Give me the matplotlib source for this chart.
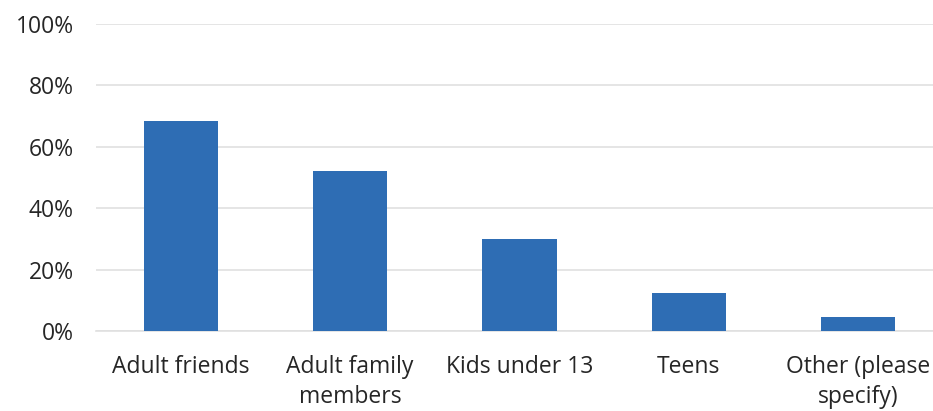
import matplotlib.pyplot as plt
from matplotlib.ticker import PercentFormatter

categories = ['Adult friends', 'Adult family\nmembers', 'Kids under 13', 'Teens', 'Other (please\nspecify)']
values = [68.5, 52, 30, 12.5, 4.6]
yticks = [0, 20, 40, 60, 80, 100]

plt.rcParams['font.family'] = ['Open Sans', 'DejaVu Sans']

fig = plt.figure(figsize=(9.33, 4.11), dpi=100)
ax = fig.add_axes([96 / 933, 80 / 411, 847 / 933, 307 / 411])

ax.bar(range(len(categories)), values, width=0.437, color='#2E6DB4', zorder=3)

ax.set_xlim(-0.5, 4.5)
ax.set_ylim(0, 100)
ax.set_yticks(yticks)
ax.yaxis.set_major_formatter(PercentFormatter(decimals=0))
ax.set_xticks(range(len(categories)))
ax.set_xticklabels(categories, linespacing=1.38)

ax.grid(axis='y', color='#E0E0E0', linewidth=1.2, zorder=0)
for s in ['top', 'right', 'left']:
    ax.spines[s].set_visible(False)
ax.spines['bottom'].set_color('#E0E0E0')
ax.spines['bottom'].set_linewidth(1.2)
ax.tick_params(axis='both', length=0, labelsize=16.5, colors='#262626')
ax.tick_params(axis='y', pad=16)
ax.tick_params(axis='x', pad=17)

fig.savefig('out.png', dpi=100)
